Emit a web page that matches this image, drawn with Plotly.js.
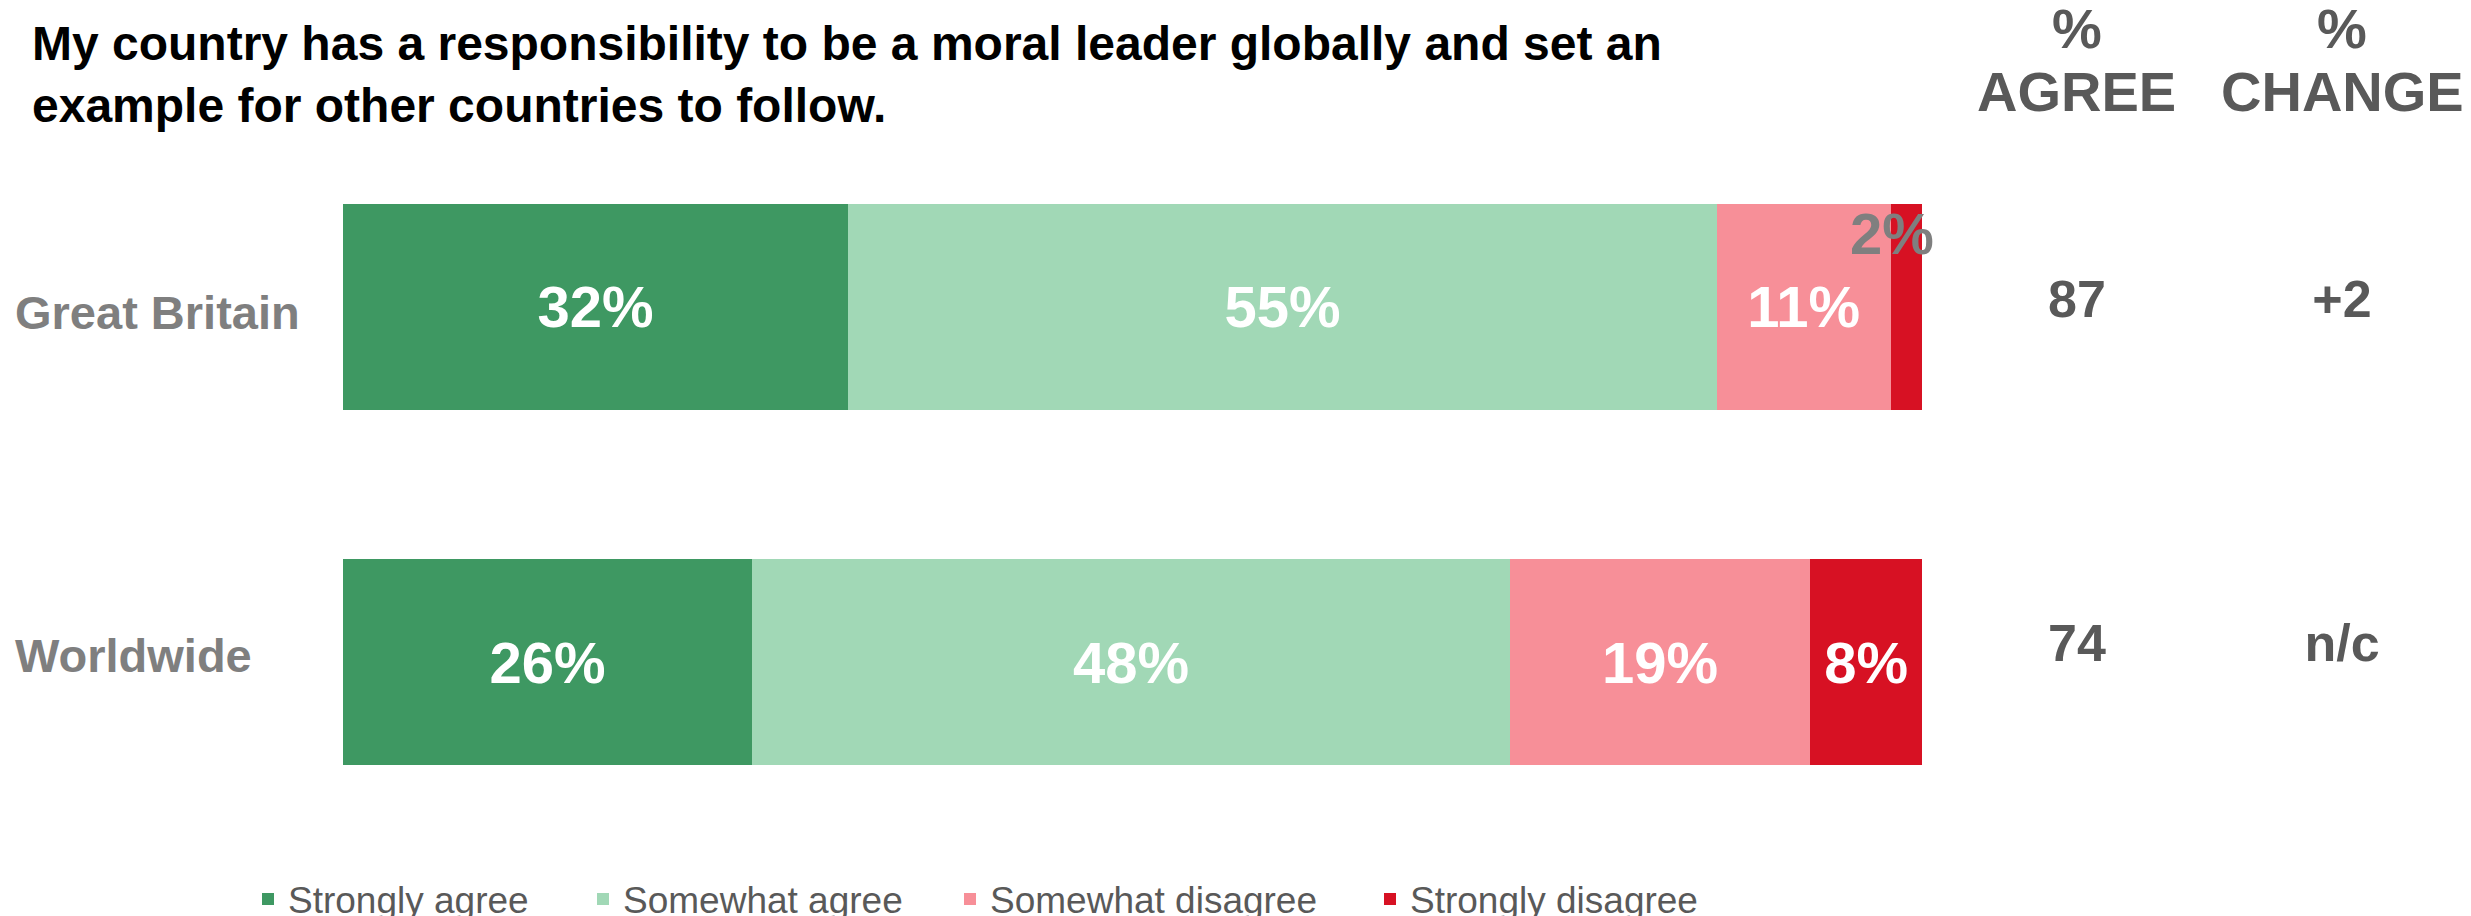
<!DOCTYPE html>
<html>
<head>
<meta charset="utf-8">
<script src="https://cdn.plot.ly/plotly-3.0.1.min.js"></script>
<style>html,body{margin:0;padding:0;background:#fff;}#chart{width:2471px;height:916px;}</style>
</head>
<body>
<div id="chart"></div>
<script>
// ---- data ----
const titleText = 'My country has a responsibility to be a moral leader globally and set an<br>example for other countries to follow.';
const categories = ['Great Britain', 'Worldwide'];
const seriesNames = ['Strongly agree', 'Somewhat agree', 'Somewhat disagree', 'Strongly disagree'];
const stronglyAgree = [32, 25.9];
const somewhatAgree = [55, 48];
const somewhatDisagree = [11, 19];
const stronglyDisagree = [2, 7.1];
const stronglyAgreeLabels = ['32%', '26%'];
const somewhatAgreeLabels = ['55%', '48%'];
const somewhatDisagreeLabels = ['11%', '19%'];
const stronglyDisagreeLabels = ['2%', '8%'];
const columnHeaders = ['% AGREE', '% CHANGE'];
const headerLines = [['%', 'AGREE'], ['%', 'CHANGE']];
const agreeTotals = ['87', '74'];
const changeValues = ['+2', 'n/c'];

// ---- styles ----
const FONT = 'Liberation Sans, Arial, sans-serif';
const colors = ['#3e9862', '#a1d8b6', '#f78f98', '#d71123'];
const legendWidths = [290, 322, 375, null];
const values = [stronglyAgree, somewhatAgree, somewhatDisagree, stronglyDisagree];
const labels = [stronglyAgreeLabels, somewhatAgreeLabels, somewhatDisagreeLabels, stronglyDisagreeLabels];

const W = 2471, H = 916;
const mL = 343, mR = 0, mT = 128.5, mB = 75.5;
const plotW = W - mL - mR;
const plotH = H - mT - mB;
const barW = 1579.1;
const split = barW / plotW;

const traces = seriesNames.map((name, i) => {
  // small segment label for GB strongly disagree is drawn above the bar, as in the reference
  const tpos = values[i].map((v, j) => (i === 3 && j === 0) ? 'none' : 'inside');
  const t = {
    type: 'bar', orientation: 'h', name: name,
    y: categories, x: values[i], text: labels[i],
    texttemplate: '%{text}', textposition: tpos, insidetextanchor: 'middle',
    constraintext: 'none',
    textfont: {family: FONT, size: 58, color: '#ffffff', weight: 'bold'},
    marker: {color: colors[i], line: {width: 0}},
    hoverinfo: 'skip', xaxis: 'x', yaxis: 'y'
  };
  if (legendWidths[i]) t.legendwidth = legendWidths[i];
  return t;
});

// table values drawn on their own axes
const tblX = [], tblY = [], tblT = [];
categories.forEach((c, j) => { tblX.push(columnHeaders[0]); tblY.push(c); tblT.push(agreeTotals[j]); });
categories.forEach((c, j) => { tblX.push(columnHeaders[1]); tblY.push(c); tblT.push(changeValues[j]); });
traces.push({
  type: 'scatter', mode: 'text', x: tblX, y: tblY, text: tblT,
  textposition: 'middle center',
  textfont: {family: FONT, size: 52, color: '#595959', weight: 'bold'},
  xaxis: 'x2', yaxis: 'y2', showlegend: false, hoverinfo: 'skip'
});

const annotations = [];
// row labels (left aligned)
const rowShift = [-6, 7];
categories.forEach((c, j) => annotations.push({
  xref: 'paper', yref: 'y', x: (13 - mL) / plotW, y: c, xanchor: 'left', yanchor: 'middle', yshift: rowShift[j],
  text: c, showarrow: false, font: {family: FONT, size: 47, color: '#7f7f7f', weight: 'bold'}
}));
// GB strongly disagree label above bar
annotations.push({
  xref: 'x', yref: 'y',
  x: stronglyAgree[0] + somewhatAgree[0] + somewhatDisagree[0] + stronglyDisagree[0] / 2,
  y: categories[0], xshift: -14, yshift: 73,
  text: stronglyDisagreeLabels[0], showarrow: false,
  font: {family: FONT, size: 58, color: '#7f7f7f', weight: 'bold'}
});
// column headers
columnHeaders.forEach((h, k) => {
  headerLines[k].forEach((line, li) => annotations.push({
    xref: 'x2', yref: 'paper', x: h, y: li === 0 ? (H - mB - 28) / plotH : (H - mB - 91) / plotH,
    yanchor: 'middle', text: line, showarrow: false,
    font: {family: FONT, size: 56, color: '#595959', weight: 'bold'}
  }));
});

const layout = {
  width: W, height: H,
  margin: {l: mL, r: mR, t: mT, b: mB, pad: 0, autoexpand: false},
  paper_bgcolor: '#ffffff', plot_bgcolor: '#ffffff',
  font: {family: FONT},
  title: {
    text: titleText, x: 32 / W, xanchor: 'left', xref: 'container',
    y: 1 - 60 / H, yanchor: 'top', yref: 'container',
    font: {family: FONT, size: 48, color: '#000000', weight: 'bold'}
  },
  barmode: 'stack', bargap: 0.42,
  xaxis: {domain: [0, split], range: [0, 100], visible: false, fixedrange: true},
  yaxis: {type: 'category', categoryorder: 'array', categoryarray: categories, range: [1.5, -0.5], visible: false, fixedrange: true},
  xaxis2: {domain: [split, 1], anchor: 'y2', type: 'category', categoryorder: 'array', categoryarray: columnHeaders,
           range: [-0.5845, 1.4868], visible: false, fixedrange: true},
  yaxis2: {domain: [0, 1], anchor: 'x2', type: 'category', categoryorder: 'array', categoryarray: categories,
           range: [1.5596, -0.5102], visible: false, fixedrange: true},
  showlegend: true,
  legend: {
    orientation: 'h', x: (248 - mL) / plotW, xanchor: 'left', y: (H - mB - 900) / plotH, yanchor: 'middle',
    font: {family: FONT, size: 37, color: '#595959'}, bgcolor: 'rgba(0,0,0,0)', traceorder: 'normal'
  },
  annotations: annotations
};

Plotly.newPlot('chart', traces, layout, {displayModeBar: false, staticPlot: true});
</script>
</body>
</html>
